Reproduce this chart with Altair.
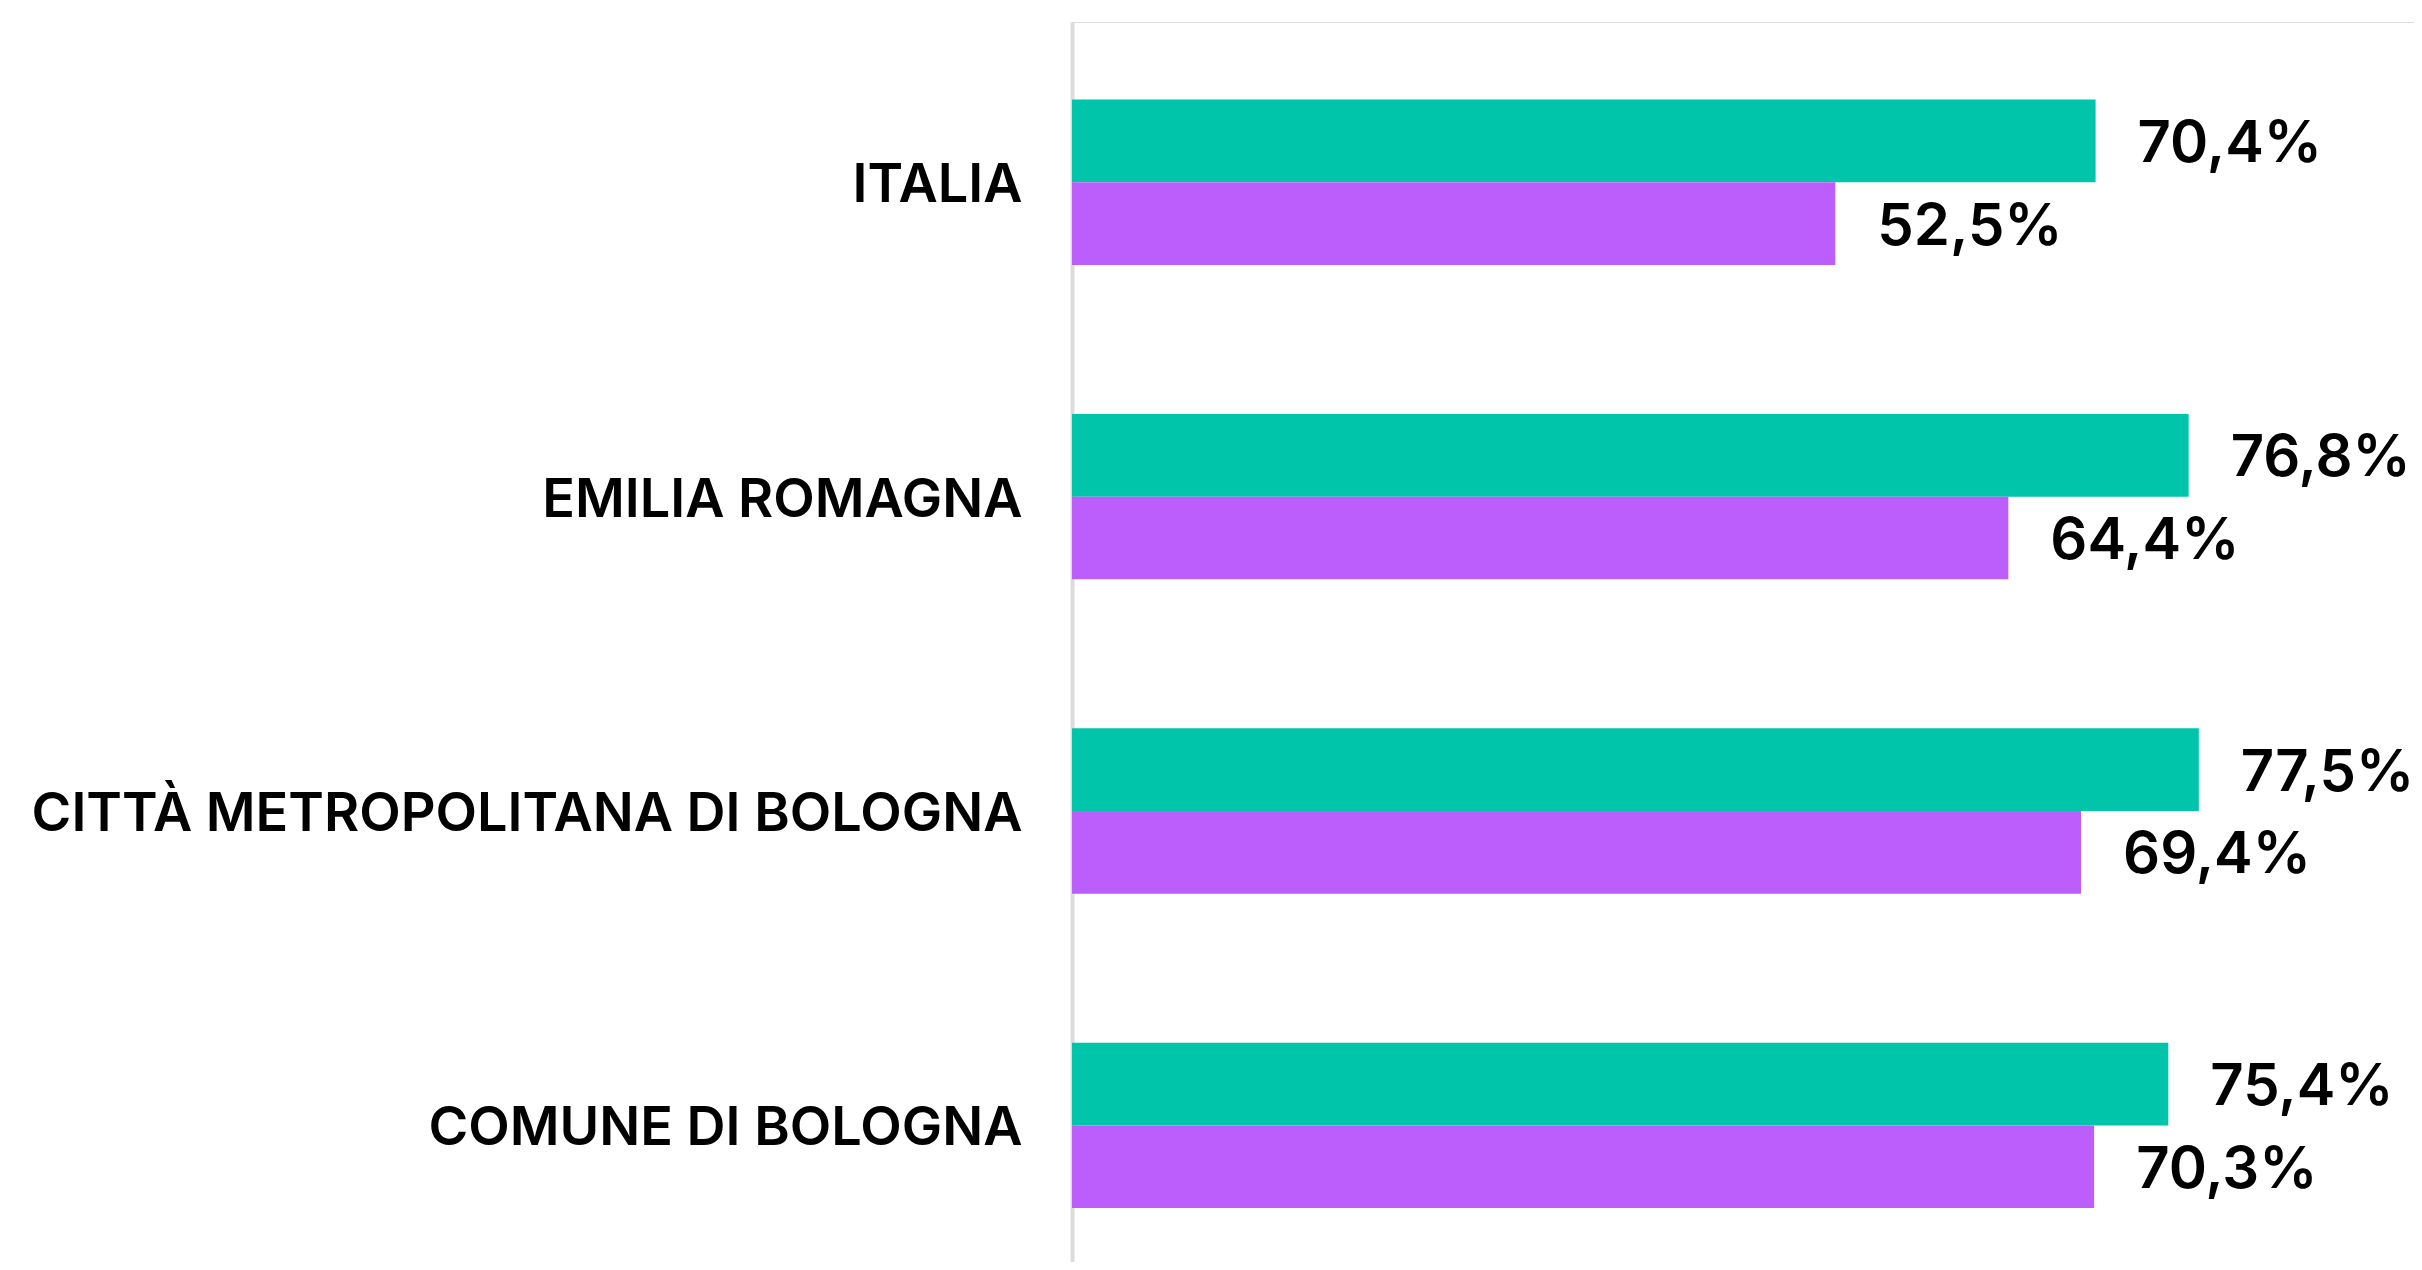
import altair as alt
import pandas as pd

categories = ["ITALIA", "EMILIA ROMAGNA", "CITTÀ METROPOLITANA DI BOLOGNA", "COMUNE DI BOLOGNA"]
series_names = ["Serie 1", "Serie 2"]
values_green = [70.4, 76.8, 77.5, 75.4]
values_purple = [52.5, 64.4, 69.4, 70.3]
colors = ["#00C5AA", "#BC5EFB"]

rows = []
for c, g, p in zip(categories, values_green, values_purple):
    rows.append({"cat": c, "serie": series_names[0], "val": g})
    rows.append({"cat": c, "serie": series_names[1], "val": p})
df = pd.DataFrame(rows)
df["label"] = df["val"].map(lambda v: f"{v:.1f}".replace(".", ",") + "%")

FONT = "Inter"

y_enc = alt.Y(
    "cat:N",
    sort=categories,
    title=None,
    scale=alt.Scale(paddingInner=0.474, paddingOuter=0.209, align=0.59),
    axis=alt.Axis(
        ticks=False,
        domain=True,
        domainColor="#dcdcdc",
        domainWidth=4,
        labelPadding=50,
        labelOffset=4,
        labelFont=FONT,
        labelFontSize=54,
        labelFontWeight=600,
        labelColor="#000000",
        labelLimit=2000,
    ),
)
yoff = alt.YOffset("serie:N", sort=series_names, scale=alt.Scale(paddingInner=0, paddingOuter=0))
x_enc = alt.X("val:Q", scale=alt.Scale(domain=[0, 92.3], nice=False), axis=None)

bars = alt.Chart(df).mark_bar(cornerRadius=0).encode(
    y=y_enc,
    yOffset=yoff,
    x=x_enc,
    color=alt.Color("serie:N", sort=series_names,
                    scale=alt.Scale(domain=series_names, range=colors), legend=None),
)

texts = alt.Chart(df).mark_text(
    align="left", baseline="middle", dx=42, dy=4,
    font=FONT, fontSize=58, fontWeight=600, color="#000000",
).encode(
    y=y_enc,
    yOffset=yoff,
    x=x_enc,
    text="label:N",
)

chart = alt.layer(bars, texts).properties(
    width=1342,
    height=1240,
    autosize=alt.AutoSizeParams(type="none"),
    padding={"left": 1064, "top": 14, "right": 0, "bottom": 0},
).configure_view(stroke=None).configure(background="white")

chart.save("out.html", embed_options={"renderer": "svg", "actions": False})
